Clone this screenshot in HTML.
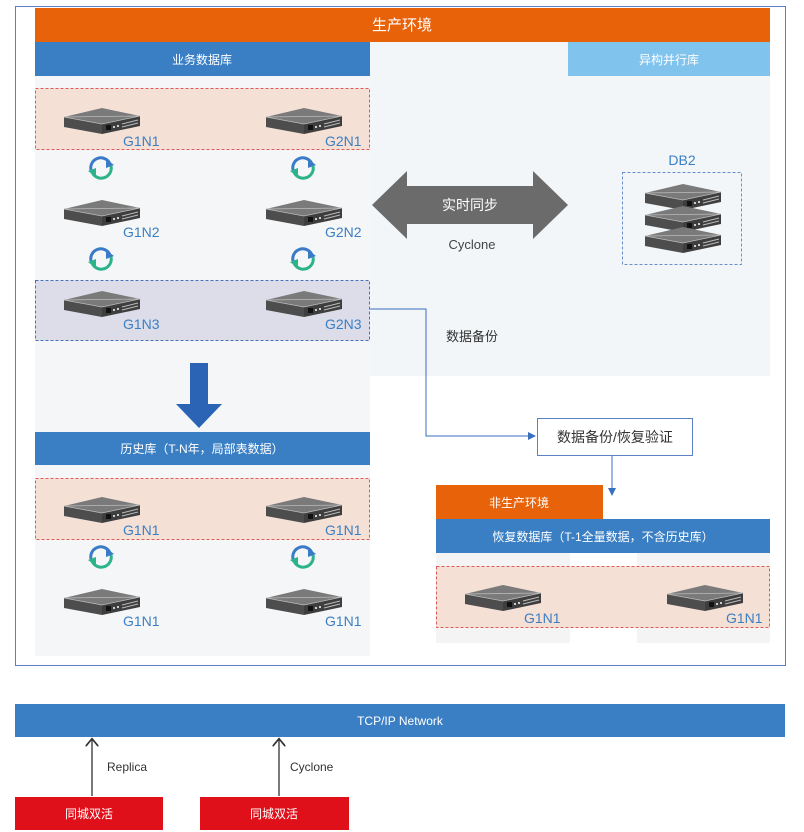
<!DOCTYPE html>
<html><head><meta charset="utf-8"><style>
body{margin:0;background:#fff;}
svg{display:block;font-family:"Liberation Sans","Noto Sans CJK SC",sans-serif;}
</style></head><body>
<svg width="804" height="832" viewBox="0 0 804 832" xmlns="http://www.w3.org/2000/svg">
<defs>
<g id="srv">
<polygon points="2,9 40,0 78,8 40,16" fill="#7a7a7a"/>
<polygon points="2,9 40,16 40,26 2,19" fill="#4d4d4d"/>
<polygon points="40,16 78,8 78,18 40,26" fill="#3e3e3e"/>
<polygon points="2,9 40,16 78,8" fill="none" stroke="#bbb" stroke-width="0.8"/>
<rect x="44" y="17" width="5" height="5" fill="#111"/>
<rect x="51" y="18" width="2" height="2" fill="#ccc"/><rect x="55" y="17" width="2" height="2" fill="#ccc"/>
<line x1="60" y1="16" x2="76" y2="12" stroke="#bbb" stroke-width="1"/>
<line x1="60" y1="19" x2="76" y2="15" stroke="#bbb" stroke-width="1"/>
</g>
<g id="sync">
<path d="M-10,2 A10,10 0 0 1 9,-4" fill="none" stroke="#3a7bc8" stroke-width="3"/>
<polygon points="5,-9 13,-3 5,0" fill="#3a7bc8"/>
<path d="M10,-2 A10,10 0 0 1 -9,4" fill="none" stroke="#2bb38a" stroke-width="3"/>
<polygon points="-5,9 -13,3 -5,0" fill="#2bb38a"/>
</g>
<marker id="ah" markerWidth="8" markerHeight="8" refX="7" refY="4" orient="auto"><polygon points="0,0 8,4 0,8" fill="#3a6fc0"/></marker>
<marker id="ak" markerWidth="10" markerHeight="10" refX="5" refY="5" orient="auto"><path d="M0,0 L6,5 L0,10" fill="none" stroke="#333" stroke-width="1.3"/></marker>
</defs>
<rect x="15.5" y="6.5" width="770" height="659" fill="#fff" stroke="#5b7fc0"/>
<rect x="35" y="76" width="335" height="580" fill="#f5f6f7"/>
<rect x="370" y="42" width="400" height="334" fill="#f3f6f9"/>
<path d="M400,656 L400,392 Q400,376 416,376 L770,376 L770,656 Z" fill="#fff"/>
<rect x="436" y="553" width="134" height="90" fill="#f4f4f4"/>
<rect x="637" y="553" width="133" height="90" fill="#f4f4f4"/>
<rect x="35" y="8" width="735" height="34" fill="#e8620a"/>
<text x="402" y="30" fill="#fff" font-size="15" text-anchor="middle">生产环境</text>
<rect x="35" y="42" width="335" height="34" fill="#3a7fc4"/>
<text x="202" y="64" fill="#fff" font-size="12" text-anchor="middle">业务数据库</text>
<rect x="568" y="42" width="202" height="34" fill="#80c3ec"/>
<text x="669" y="64" fill="#fff" font-size="12" text-anchor="middle">异构并行库</text>
<rect x="35.5" y="88.5" width="334" height="61" fill="#f5e0d6" stroke="#e05a5a" stroke-dasharray="3,2"/>
<rect x="35.5" y="280.5" width="334" height="60" fill="#dcdde9" stroke="#4a72b8" stroke-dasharray="3,2"/>
<g fill="#3a7fc4" font-size="14">
<use href="#srv" x="62" y="108"/><text x="123" y="146">G1N1</text>
<use href="#srv" x="264" y="108"/><text x="325" y="146">G2N1</text>
<use href="#srv" x="62" y="200"/><text x="123" y="237">G1N2</text>
<use href="#srv" x="264" y="200"/><text x="325" y="237">G2N2</text>
<use href="#srv" x="62" y="291"/><text x="123" y="329">G1N3</text>
<use href="#srv" x="264" y="291"/><text x="325" y="329">G2N3</text>
</g>
<use href="#sync" x="101" y="168"/><use href="#sync" x="303" y="168"/>
<use href="#sync" x="101" y="259"/><use href="#sync" x="303" y="259"/>
<polygon points="372,205 407,171 407,186 533,186 533,171 568,205 533,239 533,224 407,224 407,239" fill="#6b6b6b"/>
<text x="470" y="210" fill="#fff" font-size="14" text-anchor="middle">实时同步</text>
<text x="472" y="249" fill="#444" font-size="13" text-anchor="middle">Cyclone</text>
<text x="682" y="165" fill="#3a7fc4" font-size="14" text-anchor="middle">DB2</text>
<rect x="622.5" y="172.5" width="119" height="92" fill="none" stroke="#6b8fca" stroke-dasharray="3,2"/>
<use href="#srv" x="643" y="184"/><use href="#srv" x="643" y="206"/><use href="#srv" x="643" y="227"/>
<text x="472" y="341" fill="#333" font-size="13" text-anchor="middle">数据备份</text>
<polyline points="370,309 426,309 426,436 535,436" fill="none" stroke="#3a6fc0" stroke-width="1" marker-end="url(#ah)"/>
<rect x="537.5" y="418.5" width="155" height="37" fill="#fff" stroke="#5b82c4"/>
<text x="615" y="442" fill="#333" font-size="14" text-anchor="middle">数据备份/恢复验证</text>
<line x1="612" y1="456" x2="612" y2="495" stroke="#3a6fc0" marker-end="url(#ah)"/>
<polygon points="190,363 208,363 208,404 222,404 199,428 176,404 190,404" fill="#2b63b5"/>
<rect x="35" y="432" width="335" height="33" fill="#3a7fc4"/>
<text x="202" y="453" fill="#fff" font-size="12" text-anchor="middle">历史库（T-N年，局部表数据）</text>
<rect x="35.5" y="478.5" width="334" height="61" fill="#f5e0d6" stroke="#e05a5a" stroke-dasharray="3,2"/>
<g fill="#3a7fc4" font-size="14">
<use href="#srv" x="62" y="497"/><text x="123" y="535">G1N1</text>
<use href="#srv" x="264" y="497"/><text x="325" y="535">G1N1</text>
<use href="#srv" x="62" y="589"/><text x="123" y="626">G1N1</text>
<use href="#srv" x="264" y="589"/><text x="325" y="626">G1N1</text>
</g>
<use href="#sync" x="101" y="557"/><use href="#sync" x="303" y="557"/>
<rect x="436" y="485" width="167" height="34" fill="#e8620a"/>
<text x="519" y="507" fill="#fff" font-size="12" text-anchor="middle">非生产环境</text>
<rect x="436" y="519" width="334" height="34" fill="#3a7fc4"/>
<text x="603" y="541" fill="#fff" font-size="12" text-anchor="middle">恢复数据库（T-1全量数据，不含历史库）</text>
<rect x="436.5" y="566.5" width="333" height="61" fill="#f5e0d6" stroke="#e05a5a" stroke-dasharray="3,2"/>
<g fill="#3a7fc4" font-size="14">
<use href="#srv" x="463" y="585"/><text x="524" y="623">G1N1</text>
<use href="#srv" x="665" y="585"/><text x="726" y="623">G1N1</text>
</g>
<rect x="15" y="704" width="770" height="33" fill="#3a7fc4"/>
<text x="400" y="725" fill="#fff" font-size="12" text-anchor="middle">TCP/IP Network</text>
<line x1="92" y1="796" x2="92" y2="740" stroke="#333" stroke-width="1.3" marker-end="url(#ak)"/>
<line x1="279" y1="796" x2="279" y2="740" stroke="#333" stroke-width="1.3" marker-end="url(#ak)"/>
<text x="107" y="771" fill="#333" font-size="12">Replica</text>
<text x="290" y="771" fill="#333" font-size="12">Cyclone</text>
<rect x="15" y="797" width="148" height="33" fill="#e0101a"/>
<text x="89" y="818" fill="#fff" font-size="12" text-anchor="middle">同城双活</text>
<rect x="200" y="797" width="149" height="33" fill="#e0101a"/>
<text x="274" y="818" fill="#fff" font-size="12" text-anchor="middle">同城双活</text>
</svg>
</body></html>
